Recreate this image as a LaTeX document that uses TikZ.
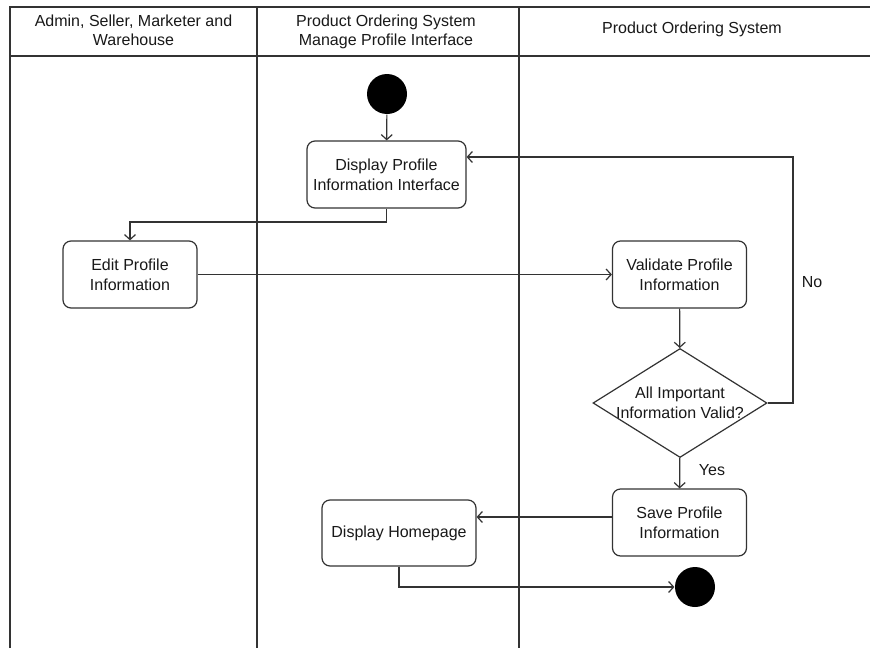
\documentclass[tikz,border=0pt]{standalone}
\usepackage{fontspec}
\setmainfont{Liberation Sans}
\usetikzlibrary{arrows.meta,shapes.geometric}
\begin{document}
\begin{tikzpicture}[x=1pt,y=-1pt,
  line width=1.2pt,
  ln/.style={draw=black!80},
  act/.style={ln,rounded corners=8pt,minimum width=134pt,minimum height=67pt,
    align=center,inner sep=2pt,font=\fontsize{16}{20}\selectfont,text=black!90},
  dec/.style={ln,diamond,aspect=1.6,minimum width=174pt,minimum height=109pt,
    align=center,inner sep=-12pt,font=\fontsize{16}{20}\selectfont,text=black!90},
  dot/.style={circle,fill=black,minimum size=40pt,inner sep=0pt},
  flow/.style={ln,-{Straight Barb[length=5pt,width=11pt]}},
  hdr/.style={align=center,font=\fontsize{16}{19}\selectfont,text=black!90},
  lbl/.style={font=\fontsize{16}{20}\selectfont,text=black!90}]
\useasboundingbox (0,0) rectangle (870,648);
\fill[white] (0,0) rectangle (870,648);

% swimlane frame
\draw[ln] (10,648) -- (10,7) -- (870,7);
\draw[ln] (10,56) -- (870,56);
\draw[ln] (257,7) -- (257,648);
\draw[ln] (519,7) -- (519,648);
\node[hdr] (h1) at (133.5,30.5) {Admin, Seller, Marketer and\\Warehouse};
\node[hdr] (h2) at (386,31.5) {Product Ordering System\\Manage Profile Interface};
\node[hdr] (h3) at (692,29) {Product Ordering System};

% activity nodes
\node[dot] (start) at (387,94) {};
\node[act,minimum width=159pt] (disp) at (386.5,174.5) {Display Profile\\Information Interface};
\node[act] (edit) at (130,274.5) {Edit Profile\\Information};
\node[act] (valid) at (679.5,274.5) {Validate Profile\\Information};
\node[dec] (check) at (680,403) {All Important\\Information Valid?};
\node[act] (save) at (679.5,522.5) {Save Profile\\Information};
\node[act,minimum width=154pt,minimum height=66pt] (home) at (399,533) {Display Homepage};
\node[dot] (stop) at (695,587) {};

% control flow
\draw[flow] (start) -- (disp);
\draw[flow] (disp.south) |- (258,222) -| (edit.north);
\draw[flow] (edit) -- (valid);
\draw[flow] (valid) -- (check);
\draw[flow] (check.east) -- (793,403) |- (disp.east |- 0,157);
\draw[flow] (check) -- (save);
\draw[flow] (save.west |- 0,517) -- (home.east |- 0,517);
\draw[flow] (home.south) |- (stop.west);

% guard labels
\node[lbl] (no) at (812,282) {No};
\node[lbl] (yes) at (712,470) {Yes};
\end{tikzpicture}
\end{document}
